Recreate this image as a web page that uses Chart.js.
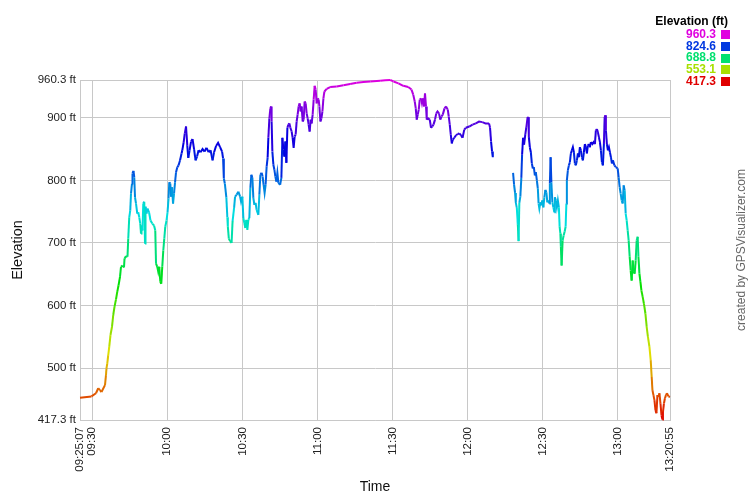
<!DOCTYPE html>
<html>
<head>
<meta charset="utf-8">
<title>Elevation profile</title>
<script src="https://cdn.jsdelivr.net/npm/chart.js@4.4.1/dist/chart.umd.min.js"></script>
<style>
  html, body { margin: 0; padding: 0; background: #fff; }
  #wrap { width: 750px; height: 500px; }
</style>
</head>
<body>
<div id="wrap"><canvas id="chart" width="750" height="500"></canvas></div>
<script>
// minutes after 09:00, elevation in feet (null = no track data)
const minutes = [
  25.12, 29.7, 31.5, 32.4, 33.1, 33.7, 35.1, 35.5, 35.7, 36.0, 36.4, 36.8, 37.3, 37.9, 38.4, 38.9,
  39.5, 40.0, 40.5, 41.1, 41.5, 42.1, 42.7, 42.9, 43.5, 44.1, 44.4, 44.8, 45.2, 45.5, 45.9, 46.1,
  46.5, 46.8, 47.1, 47.5, 48.0, 48.4, 48.8, 49.2, 49.5, 49.7, 50.1, 50.4, 50.8, 51.1, 51.3, 51.7,
  52.1, 52.7, 53.3, 54.0, 54.7, 55.2, 55.5, 56.0, 56.4, 56.8, 57.2, 57.6, 58.0, 58.4, 58.8, 59.2,
  59.7, 60.1, 60.5, 60.8, 61.2, 61.5, 61.9, 62.3, 62.7, 63.1, 63.5, 64.0, 64.5, 65.1, 65.7, 66.0,
  66.5, 67.0, 67.5, 68.0, 68.4, 68.9, 69.5, 70.1, 70.7, 71.3, 71.9, 72.5, 73.3, 74.1, 74.9, 75.7,
  76.5, 77.3, 78.1, 78.7, 79.5, 80.3, 81.1, 81.9, 82.3, 82.6, 83.0, 83.6, 84.0, 84.2, 84.6, 85.1,
  85.7, 86.1, 86.7, 87.1, 87.7, 88.4, 89.1, 89.5, 90.0, 90.4, 90.8, 91.2, 91.6, 92.0, 92.4, 92.8,
  93.2, 93.6, 94.0, 94.4, 94.8, 95.3, 95.7, 96.4, 96.8, 97.2, 97.7, 98.1, 98.5, 98.9, 99.3, 99.7,
  100.1, 100.4, 100.8, 101.2, 101.5, 101.7, 102.0, 102.4, 102.8, 103.2, 103.6, 104.0, 104.4, 105.1, 105.6, 106.0,
  106.4, 106.8, 107.2, 107.6, 108.0, 108.4, 108.8, 109.2, 109.7, 110.1, 110.5, 110.9, 111.3, 111.7, 112.1, 112.5,
  112.9, 113.3, 113.7, 114.1, 114.5, 114.9, 115.3, 115.7, 116.1, 116.5, 116.9, 117.3, 117.7, 118.1, 118.5, 118.9,
  119.3, 119.7, 120.1, 120.5, 120.8, 121.2, 121.6, 122.0, 122.4, 122.8, 123.7, 125.1, 127.7, 130.4, 133.1, 135.7,
  138.4, 141.1, 145.1, 147.1, 149.1, 150.4, 152.4, 154.3, 156.3, 157.6, 158.3, 158.9, 159.3, 159.7, 160.1, 160.5,
  160.9, 161.4, 161.8, 162.2, 162.6, 163.0, 163.4, 163.7, 164.2, 164.9, 165.4, 165.9, 166.4, 167.0, 167.5, 168.0,
  168.6, 169.1, 169.6, 170.1, 170.8, 171.4, 172.1, 172.5, 172.9, 173.3, 173.7, 174.1, 174.7, 175.4, 176.1, 176.7,
  177.4, 178.0, 178.7, 179.3, 180.7, 182.0, 183.3, 184.6, 185.9, 187.2, 188.6, 189.0, 189.4, 189.8, 190.1, 194.0,
  198.2, 198.6, 199.0, 199.3, 199.7, 200.1, 200.4, 200.7, 201.1, 201.5, 201.8, 202.2, 202.6, 203.1, 203.5, 204.0,
  204.3, 204.5, 204.9, 205.3, 205.7, 206.1, 206.5, 206.9, 207.3, 207.7, 208.1, 208.4, 208.7, 209.1, 209.5, 209.9,
  210.3, 210.7, 211.1, 211.5, 211.9, 212.3, 212.7, 212.9, 213.2, 213.5, 213.9, 214.3, 214.7, 214.9, 215.3, 215.7,
  216.1, 216.5, 216.8, 217.1, 217.3, 217.6, 218.0, 218.4, 218.8, 219.2, 219.5, 219.7, 220.1, 220.5, 220.9, 221.3,
  221.7, 222.1, 222.5, 222.9, 223.3, 223.7, 224.1, 224.5, 224.9, 225.3, 225.7, 226.1, 226.5, 226.9, 227.3, 227.7,
  228.1, 228.5, 228.9, 229.3, 229.9, 230.4, 230.9, 231.3, 231.7, 232.1, 232.5, 232.9, 233.3, 233.7, 234.1, 234.5,
  234.8, 235.1, 235.3, 235.7, 236.1, 236.5, 236.9, 237.3, 237.7, 238.1, 238.7, 239.3, 240.0, 240.4, 240.8, 241.2,
  241.6, 242.0, 242.4, 242.8, 243.2, 243.6, 244.0, 244.4, 244.8, 245.2, 245.6, 246.0, 246.4, 246.8, 247.2, 247.6,
  248.0, 248.3, 248.7, 249.1, 249.5, 250.0, 250.5, 251.1, 251.6, 252.1, 252.7, 253.2, 253.6, 253.9, 254.3, 254.7,
  255.1, 255.5, 255.9, 256.3, 256.7, 257.1, 257.5, 257.9, 258.1, 258.5, 258.9, 259.3, 259.7, 260.3, 260.9
];
const elevationFt = [
  453, 455, 460, 468, 465, 462, 473, 489, 500, 507, 521, 534, 553, 566, 585, 598,
  610, 622, 632, 646, 662, 664, 661, 675, 679, 678, 707, 741, 752, 779, 795, 811,
  815, 805, 773, 763, 747, 749, 741, 731, 715, 728, 720, 763, 766, 699, 758, 747,
  755, 749, 736, 731, 728, 720, 667, 662, 654, 662, 638, 635, 662, 688, 707, 726,
  736, 749, 771, 797, 795, 774, 789, 763, 779, 797, 813, 821, 824, 832, 843, 848,
  860, 875, 886, 855, 836, 848, 862, 866, 850, 832, 838, 848, 845, 850, 846, 852,
  845, 848, 832, 845, 855, 860, 853, 846, 835, 803, 795, 773, 741, 726, 707, 703,
  700, 735, 756, 774, 777, 782, 774, 766, 774, 740, 732, 724, 737, 721, 737, 740,
  788, 809, 804, 772, 761, 764, 753, 745, 777, 809, 812, 806, 793, 780, 793, 822,
  836, 868, 899, 915, 918, 894, 846, 825, 817, 806, 798, 812, 796, 793, 804, 868,
  849, 838, 862, 828, 884, 889, 891, 884, 878, 868, 852, 870, 873, 894, 905, 918,
  923, 910, 918, 894, 897, 926, 923, 907, 899, 889, 878, 897, 891, 905, 929, 951,
  945, 923, 931, 929, 918, 894, 899, 910, 931, 942, 946, 949, 950, 952, 954, 956,
  957, 958, 959, 960, 960.3, 958, 955, 951, 949, 945, 937, 926, 915, 897, 905, 913,
  929, 931, 923, 931, 918, 939, 918, 897, 899, 897, 884, 886, 889, 897, 907, 910,
  907, 897, 902, 905, 915, 918, 913, 902, 889, 873, 859, 865, 868, 872, 874, 875,
  872, 868, 881, 884, 886, 889, 891, 894, 893, 891, 891, 884, 862, 846, 837, null,
  812, 793, 780, 764, 756, 729, 703, 764, 774, 804, 841, 868, 857, 874, 885, 901,
  901, 869, 853, 845, 827, 819, 821, 808, 813, 800, 787, 763, 755, 765, 760, 768,
  757, 773, 785, 781, 765, 768, 763, 795, 837, 797, 765, 757, 749, 773, 768, 757,
  768, 757, 726, 715, 694, 664, 704, 712, 718, 726, 763, 800, 816, 824, 829, 843,
  848, 853, 845, 827, 824, 832, 843, 837, 853, 848, 837, 832, 845, 858, 853, 843,
  856, 858, 853, 861, 858, 861, 858, 880, 882, 877, 869, 861, 848, 829, 824, 858,
  901, 904, 880, 858, 848, 853, 845, 837, 827, 832, 824, 821, 819, 805, 789, 779,
  768, 763, 792, 784, 747, 736, 720, 704, 678, 656, 640, 672, 654, 651, 672, 704,
  710, 678, 651, 638, 624, 614, 603, 587, 566, 550, 534, 513, 486, 465, 457, 449,
  433, 428, 457, 454, 460, 444, 425, 418, 430, 444, 452, 457, 460, 455, 454
];

const xTickLabels = ["09:25:07", "09:30", "10:00", "10:30", "11:00", "11:30", "12:00", "12:30", "13:00", "13:20:55"];
const yTickValues = [417.3, 500, 600, 700, 800, 900, 960.3];
const legendValues = [960.3, 824.6, 688.8, 553.1, 417.3];

const FONT = "'Liberation Sans', Arial, sans-serif";
const GRID = "#c8c8c8";

function clockToMin(s) {
  const [h, m, sec = 0] = s.split(":").map(Number);
  return (h - 9) * 60 + m + sec / 60;
}

const xTickValues = xTickLabels.map(clockToMin);
const yMin = yTickValues[0];
const yMax = yTickValues[yTickValues.length - 1];

// hue runs red -> yellow -> green -> blue -> magenta with elevation
function elevColor(v) {
  let f = (v - yMin) / (yMax - yMin);
  f = Math.max(0, Math.min(1, f));
  return `hsl(${Math.round(300 * f)}, 100%, 44%)`;
}

const legendPlugin = {
  id: "elevLegend",
  afterDraw(chart) {
    const ctx = chart.ctx;
    ctx.save();
    ctx.textBaseline = "middle";
    ctx.textAlign = "right";
    ctx.font = `bold 12px ${FONT}`;
    ctx.fillStyle = "#000";
    ctx.fillText("Elevation (ft)", 728, 22);
    legendValues.forEach((v, i) => {
      const y = 34.5 + i * 11.8;
      const c = elevColor(v);
      ctx.fillStyle = c;
      ctx.fillText(v.toFixed(1), 716, y);
      ctx.fillRect(721, Math.round(y - 4.5), 9, 9);
    });

    ctx.translate(742, 250);
    ctx.rotate(-Math.PI / 2);
    ctx.textAlign = "center";
    ctx.font = `12px ${FONT}`;
    ctx.fillStyle = "#666";
    ctx.fillText("created by GPSVisualizer.com", 0, 0);
    ctx.restore();
  },
};

new Chart(document.getElementById("chart"), {
  type: "line",
  data: {
    datasets: [{
      label: "Elevation",
      data: minutes.map((m, i) => ({ x: m, y: elevationFt[i] })),
      borderWidth: 2,
      pointRadius: 0,
      tension: 0,
      spanGaps: false,
      clip: false,
      segment: {
        borderColor: (ctx) => elevColor((ctx.p0.parsed.y + ctx.p1.parsed.y) / 2),
      },
    }],
  },
  options: {
    responsive: false,
    animation: false,
    devicePixelRatio: 1,
    layout: { padding: { top: 80, right: 80, left: 0, bottom: 0 } },
    plugins: {
      legend: { display: false },
      tooltip: { enabled: false },
    },
    scales: {
      x: {
        type: "linear",
        min: xTickValues[0],
        max: xTickValues[xTickValues.length - 1],
        afterBuildTicks: (scale) => { scale.ticks = xTickValues.map((v) => ({ value: v })); },
        afterFit: (scale) => { scale.height = 80; },
        grid: { color: GRID, drawTicks: false },
        border: { color: GRID },
        ticks: {
          autoSkip: false,
          maxRotation: 90,
          minRotation: 90,
          padding: 7,
          color: "#222",
          font: { family: FONT, size: 11.5 },
          callback: (v, i) => xTickLabels[i],
        },
        title: {
          display: true,
          text: "Time",
          color: "#111",
          font: { family: FONT, size: 14 },
          padding: { top: 0, bottom: 4 },
        },
      },
      y: {
        min: yMin,
        max: yMax,
        afterBuildTicks: (scale) => { scale.ticks = yTickValues.map((v) => ({ value: v })); },
        afterFit: (scale) => { scale.width = 80; },
        grid: { color: GRID, drawTicks: false },
        border: { color: GRID },
        ticks: {
          padding: 4,
          color: "#222",
          font: { family: FONT, size: 11.5 },
          callback: (v) => `${v} ft`,
        },
        title: {
          display: true,
          text: "Elevation",
          color: "#111",
          font: { family: FONT, size: 14.5 },
          padding: { top: 9, bottom: 0 },
        },
      },
    },
  },
  plugins: [legendPlugin],
});
</script>
</body>
</html>
